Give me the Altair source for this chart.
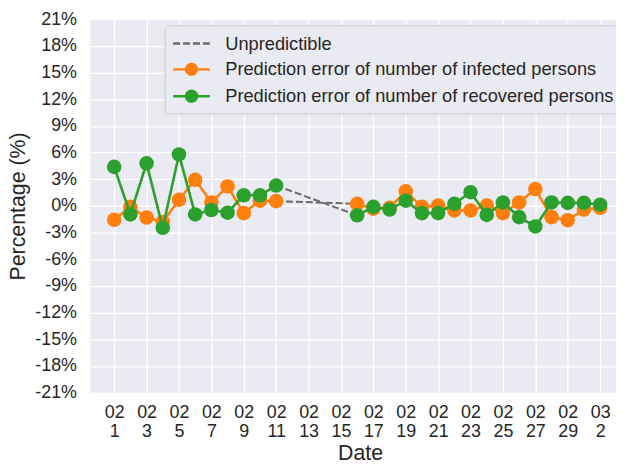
import altair as alt
import pandas as pd

FONT = "Liberation Sans"
TEXT = "#262626"

dates = [
    "2020-02-01", "2020-02-02", "2020-02-03", "2020-02-04", "2020-02-05",
    "2020-02-06", "2020-02-07", "2020-02-08", "2020-02-09", "2020-02-10",
    "2020-02-11",
    "2020-02-16", "2020-02-17", "2020-02-18", "2020-02-19", "2020-02-20",
    "2020-02-21", "2020-02-22", "2020-02-23", "2020-02-24", "2020-02-25",
    "2020-02-26", "2020-02-27", "2020-02-28", "2020-02-29", "2020-03-01",
    "2020-03-02",
]
infected = [
    -1.55, -0.1, -1.3, -1.8, 0.7, 2.95, 0.4, 2.2, -0.8, 0.6, 0.55,
    0.25, -0.3, -0.2, 1.65, -0.1, 0.05, -0.5, -0.5, 0.05, -0.8, 0.4,
    1.9, -1.25, -1.6, -0.4, -0.2,
]
recovered = [
    4.4, -0.95, 4.8, -2.45, 5.8, -0.95, -0.45, -0.75, 1.2, 1.2, 2.3,
    -1.05, -0.1, -0.4, 0.6, -0.8, -0.8, 0.25, 1.55, -1.0, 0.4, -1.25,
    -2.3, 0.4, 0.35, 0.35, 0.15,
]
tick_dates = [
    "2020-02-01", "2020-02-03", "2020-02-05", "2020-02-07", "2020-02-09",
    "2020-02-11", "2020-02-13", "2020-02-15", "2020-02-17", "2020-02-19",
    "2020-02-21", "2020-02-23", "2020-02-25", "2020-02-27", "2020-02-29",
    "2020-03-02",
]
y_ticks = [-21, -18, -15, -12, -9, -6, -3, 0, 3, 6, 9, 12, 15, 18, 21]
gap_ends = ["2020-02-11", "2020-02-16"]
series_names = [
    "Unpredictible",
    "Prediction error of number of infected persons",
    "Prediction error of number of recovered persons",
]
series_colors = ["#6b6b6b", "#ff7f0e", "#2ca02c"]

df = pd.DataFrame({"date": dates, series_names[1]: infected, series_names[2]: recovered})
df["segment"] = (pd.to_datetime(df["date"]) > pd.Timestamp(gap_ends[0])).map(
    {False: "before", True: "after"})
df["gap_end"] = df["date"].isin(gap_ends)
long = df.melt(id_vars=["date", "segment", "gap_end"], var_name="series", value_name="pct")


def dt(s, hours=0, minutes=0):
    d = pd.Timestamp(s)
    return alt.DateTime(year=d.year, month=d.month, date=d.day,
                        hours=hours, minutes=minutes, utc=True)


# legend glyphs (unit square paths, scaled by sqrt(symbolSize)/2)
path_dash = "M-1,0L-0.3,0M0,0L0.7,0M1,0L1.7,0M2,0L2.7,0"
path_marker = ("M-1,0L2.7,0"
               "M0.3,0A0.55,0.55 0 1,0 1.4,0A0.55,0.55 0 1,0 0.3,0"
               "M0.5,0A0.35,0.35 0 1,0 1.2,0A0.35,0.35 0 1,0 0.5,0"
               "M0.7,0A0.15,0.15 0 1,0 1.0,0A0.15,0.15 0 1,0 0.7,0")

leg = alt.Legend(
    title=None, orient="none", legendX=75, legendY=6, direction="vertical",
    symbolSize=400, symbolStrokeWidth=2.5, symbolOpacity=1,
    labelFontSize=18.4, labelFont=FONT, labelColor=TEXT, labelOffset=31,
    labelLimit=0, rowPadding=5, padding=7, fillColor="#eaeaf2",
    strokeColor="#cccccc", cornerRadius=4,
)

x_enc = alt.X(
    "date:T",
    scale=alt.Scale(type="utc", domain=[dt("2020-01-30", 12, 40), dt("2020-03-02", 23, 30)]),
    axis=alt.Axis(
        values=[dt(d) for d in tick_dates],
        labelExpr="[utcFormat(datum.value, '%m'), utcFormat(datum.value, '%-d')]",
        title="Date", titleX=272, titleY=50, titleBaseline="top",
        labelPadding=11, labelLineHeight=19.5,
    ),
)
y_enc = alt.Y(
    "pct:Q",
    scale=alt.Scale(domain=[-21, 21], nice=False, zero=False),
    axis=alt.Axis(values=y_ticks, labelExpr="datum.value + '%'",
                  title="Percentage (%)", labelPadding=14, titlePadding=5),
)

base = alt.Chart(long)

gap = base.transform_filter(alt.datum.gap_end).mark_line(
    strokeWidth=2, strokeDash=[7, 3], color=series_colors[0]).encode(
    x=x_enc, y=y_enc, detail="series:N")

layers = [gap]
for name, col in zip(series_names[1:], series_colors[1:]):
    sub = base.transform_filter(alt.datum.series == name)
    layers.append(sub.mark_line(strokeWidth=2.6, color=col).encode(
        x=x_enc, y=y_enc, detail="segment:N"))
    layers.append(sub.mark_circle(size=215, opacity=1, color=col).encode(
        x=x_enc, y=y_enc))

legend_layer = base.transform_filter("false").mark_point(
    filled=False, strokeWidth=2.5).encode(
    x=x_enc, y=y_enc,
    color=alt.Color("series:N", scale=alt.Scale(domain=series_names, range=series_colors),
                    legend=leg),
    shape=alt.Shape("series:N",
                    scale=alt.Scale(domain=series_names,
                                    range=[path_dash, path_marker, path_marker]),
                    legend=leg),
)
layers.append(legend_layer)

chart = alt.layer(*layers).properties(
    width=530, height=376.5,
    autosize=alt.AutoSizeParams(type="none"),
    padding={"left": 83, "top": 9.5, "right": 0, "bottom": 70},
    background="white",
).configure_view(
    fill="#eaeaf2", stroke=None,
).configure_axis(
    grid=True, gridColor="white", gridWidth=1.3, domain=False, ticks=False,
    labelFont=FONT, labelFontSize=18, labelColor=TEXT,
    titleFont=FONT, titleFontSize=21.5, titleFontWeight="normal", titleColor=TEXT,
)

chart.save("out.html", embed_options={"renderer": "svg", "actions": False})
